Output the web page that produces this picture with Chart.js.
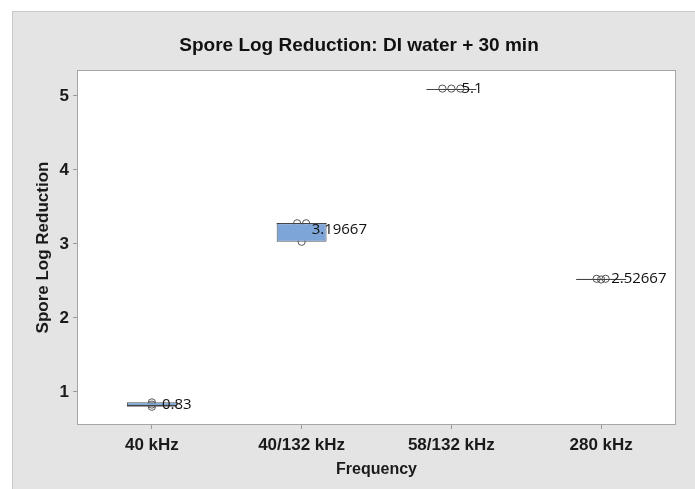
<!DOCTYPE html>
<html><head><meta charset="utf-8">
<script src="https://cdn.jsdelivr.net/npm/chart.js@4/dist/chart.umd.min.js"></script>
<style>
html,body{margin:0;padding:0;background:#fff;width:695px;height:489px;overflow:hidden;}
#panel{position:absolute;left:12px;top:11px;width:690px;height:490px;background:#e4e4e4;border-left:1px solid #c8c8c8;border-top:1px solid #c8c8c8;}
#c{position:absolute;left:13px;top:12px;width:682px;height:477px;}
</style></head><body>
<div id="panel"></div>
<canvas id="c" width="682" height="477"></canvas>
<script>
// ---- data ----
const categories = ['40 kHz', '40/132 kHz', '58/132 kHz', '280 kHz'];
const obs40kHz = [0.80, 0.83, 0.86];
const obs40_132kHz = [3.28, 3.28, 3.03];
const obs58_132kHz = [5.1, 5.1, 5.1];
const obs280kHz = [2.52, 2.53, 2.53];
const yTicks = [1, 2, 3, 4, 5];
const yMin = 0.554, yMax = 5.351;

const groups = [obs40kHz, obs40_132kHz, obs58_132kHz, obs280kHz];

// Minitab-style quantile (position q*(n+1))
function quantile(vals, q) {
  const s = [...vals].sort((a, b) => a - b), n = s.length;
  let p = q * (n + 1);
  if (p <= 1) return s[0];
  if (p >= n) return s[n - 1];
  const lo = Math.floor(p), f = p - lo;
  return s[lo - 1] + f * (s[lo] - s[lo - 1]);
}
const boxes = groups.map(g => [quantile(g, 0.25), quantile(g, 0.75)]);
const medians = groups.map(g => quantile(g, 0.5));
const means = groups.map(g => g.reduce((a, b) => a + b, 0) / g.length);

// individual symbols, tied values placed side by side
const gap = 0.06;
const points = [];
groups.forEach((g, i) => {
  const counts = {};
  g.forEach(v => { counts[v] = (counts[v] || 0) + 1; });
  const seen = {};
  g.forEach(v => {
    const k = counts[v], j = seen[v] || 0; seen[v] = j + 1;
    points.push({ x: i + (j - (k - 1) / 2) * gap, y: v });
  });
});

const fmt = v => String(parseFloat(v.toPrecision(6)));

const extras = {
  id: 'extras',
  beforeDraw(chart) {
    const { ctx, chartArea: a } = chart;
    ctx.save();
    ctx.fillStyle = '#ffffff';
    ctx.fillRect(a.left, a.top, a.right - a.left, a.bottom - a.top);
    ctx.restore();
  },
  afterDatasetDraw(chart, args) {
    if (args.index !== 0) return;
    const { ctx } = chart, y = chart.scales.y;
    const meta = chart.getDatasetMeta(0);
    ctx.save();
    ctx.strokeStyle = '#444444';
    ctx.lineWidth = 1.2;
    meta.data.forEach((bar, i) => {
      const py = Math.round(y.getPixelForValue(medians[i])) + 0.5;
      ctx.beginPath();
      ctx.moveTo(bar.x - bar.width / 2, py);
      ctx.lineTo(bar.x + bar.width / 2, py);
      ctx.stroke();
    });
    ctx.restore();
  },
  afterDatasetsDraw(chart) {
    const { ctx } = chart, x = chart.scales.x, y = chart.scales.y;
    ctx.save();
    ctx.fillStyle = '#111111';
    ctx.font = '15px "Open Sans", sans-serif';
    ctx.textAlign = 'left';
    ctx.textBaseline = 'middle';
    means.forEach((m, i) => {
      ctx.fillText(fmt(m), x.getPixelForValue(i) + 10, y.getPixelForValue(m));
    });
    ctx.restore();
  },
  afterDraw(chart) {
    const { ctx, chartArea: a } = chart;
    ctx.save();
    ctx.strokeStyle = '#a6a6a6';
    ctx.lineWidth = 1;
    const l = Math.round(a.left) + 0.5, t = Math.round(a.top) + 0.5;
    const r = Math.round(a.right) - 0.5, b = Math.round(a.bottom) - 0.5;
    ctx.strokeRect(l, t, r - l, b - t);
    ctx.restore();
  }
};

const axisFont = { family: '"Liberation Sans", Arial, sans-serif', size: 17, weight: 'bold' };

new Chart(document.getElementById('c'), {
  type: 'bar',
  data: {
    labels: categories,
    datasets: [
      {
        type: 'bar',
        data: boxes,
        backgroundColor: '#7da5d8',
        borderColor: '#555555',
        borderWidth: 1,
        borderSkipped: false,
        grouped: false,
        barPercentage: 1 / 3,
        categoryPercentage: 1,
        xAxisID: 'x', yAxisID: 'y'
      },
      {
        type: 'scatter',
        data: points,
        xAxisID: 'xj', yAxisID: 'y',
        pointStyle: 'circle',
        pointRadius: 3.6,
        backgroundColor: 'rgba(0,0,0,0)',
        borderColor: '#555555',
        borderWidth: 1
      }
    ]
  },
  options: {
    responsive: false,
    animation: false,
    events: [],
    layout: { padding: { left: 29, right: 19, top: 0, bottom: 0 } },
    plugins: {
      legend: { display: false },
      tooltip: { enabled: false },
      title: {
        display: true,
        text: 'Spore Log Reduction: DI water + 30 min',
        color: '#111111',
        font: { family: '"Liberation Sans", Arial, sans-serif', size: 19, weight: 'bold' },
        padding: { top: 22.6, bottom: 12.6 }
      }
    },
    scales: {
      x: {
        type: 'category',
        offset: true,
        grid: { display: true, offset: false, drawOnChartArea: false, drawTicks: true, tickLength: 4, color: '#9a9a9a' },
        border: { display: false },
        ticks: { color: '#1a1a1a', padding: 6, font: axisFont },
        title: {
          display: true, text: 'Frequency', color: '#1a1a1a',
          font: { family: '"Liberation Sans", Arial, sans-serif', size: 16, weight: 'bold' },
          padding: { top: 0, bottom: 9.5 }
        },
        afterFit(s) { s.height = 64; }
      },
      xj: { type: 'linear', min: -0.5, max: 3.5, offset: false, display: false },
      y: {
        type: 'linear',
        min: yMin, max: yMax,
        afterBuildTicks(s) { s.ticks = yTicks.map(v => ({ value: v })); },
        grid: { display: true, drawOnChartArea: false, drawTicks: true, tickLength: 4, color: '#9a9a9a' },
        border: { display: false },
        ticks: { color: '#1a1a1a', padding: 4, font: axisFont },
        title: {
          display: true, text: 'Spore Log Reduction', color: '#1a1a1a',
          font: { family: '"Liberation Sans", Arial, sans-serif', size: 17, weight: 'bold' },
          padding: { top: -9.2, bottom: 0 }
        },
        afterFit(s) { s.width = 35; }
      }
    }
  },
  plugins: [extras]
});
</script>
</body></html>
